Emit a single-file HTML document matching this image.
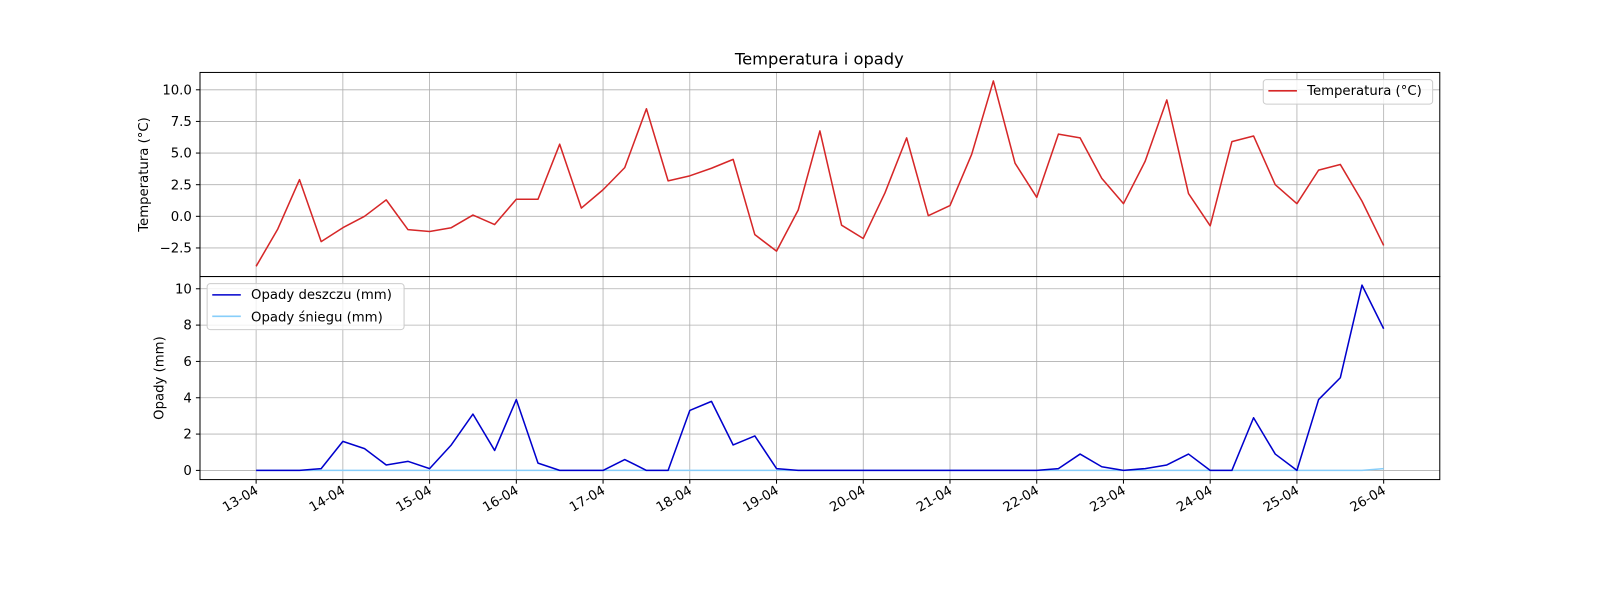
<!DOCTYPE html>
<html><head><meta charset="utf-8"><style>
html,body{margin:0;padding:0;background:#fff;overflow:hidden;width:1600px;height:600px;}
svg{display:block;}
svg text{font-family:"DejaVu Sans","Liberation Sans",sans-serif;}
</style></head><body>
<svg id="chart" width="1600" height="600" xmlns="http://www.w3.org/2000/svg"><g id="root" transform="scale(1.0204)"></g></svg>
<script>
const dayLabels = ["13-04","14-04","15-04","16-04","17-04","18-04","19-04","20-04","21-04","22-04","23-04","24-04","25-04","26-04"];
const temperature = [-3.95,-1.0,2.9,-2.0,-0.9,0,1.3,-1.05,-1.2,-0.9,0.1,-0.65,1.35,1.35,5.7,0.65,2.1,3.85,8.5,2.8,3.2,3.8,4.5,-1.45,-2.75,0.5,6.75,-0.7,-1.75,1.85,6.2,0.05,0.85,4.9,10.7,4.2,1.5,6.5,6.2,3.0,1.0,4.35,9.2,1.8,-0.75,5.9,6.35,2.5,1.0,3.65,4.1,1.2,-2.3];
const rain = [0,0,0,0.1,1.6,1.2,0.3,0.5,0.1,1.4,3.1,1.1,3.9,0.4,0,0,0,0.6,0,0,3.3,3.8,1.4,1.9,0.1,0,0,0,0,0,0,0,0,0,0,0,0,0.1,0.9,0.2,0,0.1,0.3,0.9,0,0,2.9,0.9,0,3.9,5.1,10.2,7.8];
const snow = [0,0,0,0,0,0,0,0,0,0,0,0,0,0,0,0,0,0,0,0,0,0,0,0,0,0,0,0,0,0,0,0,0,0,0,0,0,0,0,0,0,0,0,0,0,0,0,0,0,0,0,0,0.1];
const tempTicks = [-2.5,0,2.5,5,7.5,10];
const rainTicks = [0,2,4,6,8,10];

const svg = document.getElementById('root');
const NS = 'http://www.w3.org/2000/svg';
function mk(tag, attrs, parent){const e=document.createElementNS(NS,tag);for(const k in attrs)e.setAttribute(k,attrs[k]);(parent||svg).appendChild(e);return e;}
const L=196,R=1411;
const x0=251, dayW=85;
const xs = i => x0 + i*dayW/4;
const xDay = d => x0 + d*dayW;
const yT = v => 212 - v*12.4;
const yR = v => 461 - v*17.8;

function panel(top,bot,ticks,yf,fmt,title,name){
  const g=mk('g',{});  
  dayLabels.forEach((d,i)=>{const l=mk('line',{x1:xDay(i),x2:xDay(i),y1:top,y2:bot,stroke:'#b0b0b0','stroke-width':0.8},g);});
  ticks.forEach(t=>{const y=yf(t);
    const l=mk('line',{x1:L,x2:R,y1:y,y2:y,stroke:'#b0b0b0','stroke-width':0.8},g);
    mk('line',{x1:L-4,x2:L,y1:y,y2:y,stroke:'#000'},g);
    const tx=mk('text',{x:L-8,y:y+4.5,'text-anchor':'end','font-size':13},g);tx.textContent=fmt(t);});
  const yt=mk('text',{x:0,y:0,'font-size':13,'text-anchor':'middle',transform:`translate(${title[1]},${(top+bot)/2}) rotate(-90)`},g);yt.textContent=title[0];
  return g;
}
panel(71,271,tempTicks,yT,v=>v.toFixed(1).replace('-','−'),['Temperatura (°C)',145],'temperature-panel');
panel(271,470,rainTicks,yR,v=>String(v),['Opady (mm)',160],'precip-panel');

function line(arr,yf,color,name){const p=mk('polyline',{points:arr.map((v,i)=>xs(i)+','+yf(v)).join(' '),fill:'none',stroke:color,'stroke-width':1.5,'stroke-linejoin':'round'});}
line(temperature,yT,'#d62728','temperature-line');
line(snow,yR,'#87cefa','snow-line');
line(rain,yR,'#0000cd','rain-line');

mk('rect',{x:L,y:71,width:R-L,height:200,fill:'none',stroke:'#000','stroke-width':1});
mk('rect',{x:L,y:271,width:R-L,height:199,fill:'none',stroke:'#000','stroke-width':1});

dayLabels.forEach((d,i)=>{const x=xDay(i);mk('line',{x1:x,x2:x,y1:470,y2:474,stroke:'#000'});
  const t=mk('text',{x:0,y:0,'font-size':13,'text-anchor':'end',transform:`translate(${x+3},${483}) rotate(-30)`});t.textContent=d;});

const title=mk('text',{x:803,y:63,'text-anchor':'middle','font-size':16});title.textContent='Temperatura i opady';

const lg1=mk('g',{});
mk('rect',{x:1238,y:78,width:166,height:24,rx:3,fill:'#fff','fill-opacity':0.8,stroke:'#ccc'},lg1);
mk('line',{x1:1243,x2:1271,y1:89,y2:89,stroke:'#d62728','stroke-width':1.5},lg1);
const t1=mk('text',{x:1281,y:93,'font-size':13},lg1);t1.textContent='Temperatura (°C)';
const lg2=mk('g',{});
mk('rect',{x:203,y:278,width:193,height:45,rx:3,fill:'#fff','fill-opacity':0.8,stroke:'#ccc'},lg2);
mk('line',{x1:208,x2:236,y1:289,y2:289,stroke:'#0000cd','stroke-width':1.5},lg2);
const t2=mk('text',{x:246,y:293,'font-size':13},lg2);t2.textContent='Opady deszczu (mm)';
mk('line',{x1:208,x2:236,y1:310,y2:310,stroke:'#87cefa','stroke-width':1.5},lg2);
const t3=mk('text',{x:246,y:315,'font-size':13},lg2);t3.textContent='Opady śniegu (mm)';
</script>
</body></html>
